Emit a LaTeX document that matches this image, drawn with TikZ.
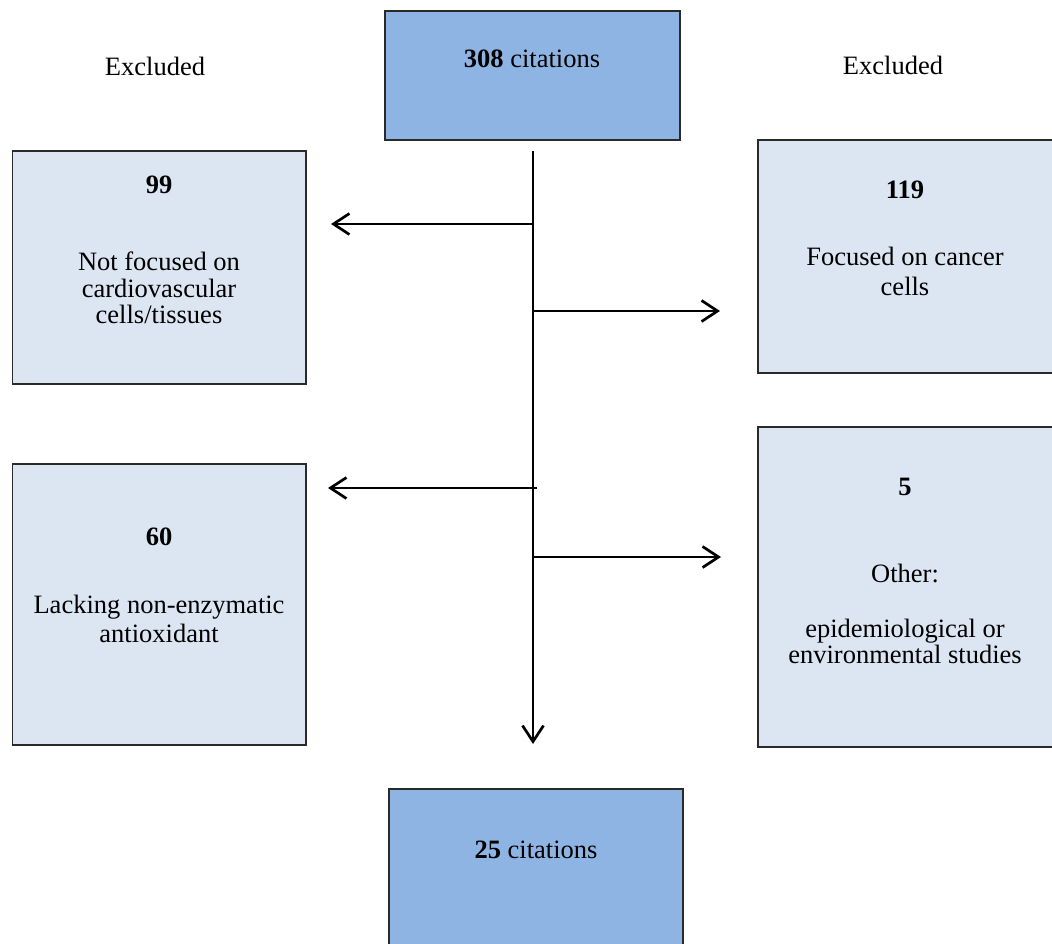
\documentclass[tikz,border=0pt]{standalone}
\usepackage{fontspec}
\setmainfont{Liberation Serif}
\usetikzlibrary{arrows.meta}
\definecolor{darkfill}{HTML}{8EB4E3}
\definecolor{lightfill}{HTML}{DCE6F2}
\definecolor{edge}{HTML}{2A2A2A}
\begin{document}
\begin{tikzpicture}[x=1pt,y=-1pt,
  bigbox/.style={draw=edge,line width=1.5pt,fill=darkfill},
  smallbox/.style={draw=edge,line width=1.5pt,fill=lightfill},
  txt/.style={anchor=base,inner sep=0pt,font=\fontsize{26.5}{28}\selectfont},
  flow/.style={line width=2.7pt,-{Straight Barb[length=16pt,width=21pt,line width=2.7pt]}}]
\useasboundingbox (0,0) rectangle (1052,943);
\clip (0,0) rectangle (1052,943);
% boxes
\draw[bigbox] (385,11) rectangle (680,140);
\draw[bigbox] (389,789) rectangle (683,960);
\draw[smallbox] (12.5,151) rectangle (306,384);
\draw[smallbox] (758,140) rectangle (1070,373);
\draw[smallbox] (12.5,464) rectangle (306,745);
\draw[smallbox] (758,427) rectangle (1070,747);
% texts
\node[txt] (top) at (532,67) {\textbf{308} citations};
\node[txt] (bot) at (536,858) {\textbf{25} citations};
\node[txt] (exl) at (155,75) {Excluded};
\node[txt] (exr) at (893,74) {Excluded};
\node[txt] (n99) at (159,193) {\textbf{99}};
\node[txt] (a1) at (159,270) {Not focused on};
\node[txt] (a2) at (159,297) {cardiovascular};
\node[txt] (a3) at (159,323) {cells/tissues};
\node[txt] (n119) at (905,198) {\textbf{119}};
\node[txt] (b1) at (905,265) {Focused on cancer};
\node[txt] (b2) at (905,295) {cells};
\node[txt] (n60) at (159,545) {\textbf{60}};
\node[txt] (c1) at (159,613) {Lacking non-enzymatic};
\node[txt] (c2) at (159,642) {antioxidant};
\node[txt] (n5) at (905,495) {\textbf{5}};
\node[txt] (d1) at (905,582) {Other:};
\node[txt] (d2) at (905,637) {epidemiological or};
\node[txt] (d3) at (905,663) {environmental studies};
% connectors
\coordinate (vs) at (533,151);
\coordinate (ve) at (533,744);
\coordinate (j1) at (533,224);
\coordinate (t1) at (331,224);
\coordinate (j2) at (533,311);
\coordinate (t2) at (720,311);
\coordinate (j3) at (537,488);
\coordinate (t3) at (328,488);
\coordinate (j4) at (533,557);
\coordinate (t4) at (721,557);
\draw[flow] (vs) -- (ve);
\draw[flow] (j1) -- (t1);
\draw[flow] (j2) -- (t2);
\draw[flow] (j3) -- (t3);
\draw[flow] (j4) -- (t4);
\end{tikzpicture}
\end{document}
